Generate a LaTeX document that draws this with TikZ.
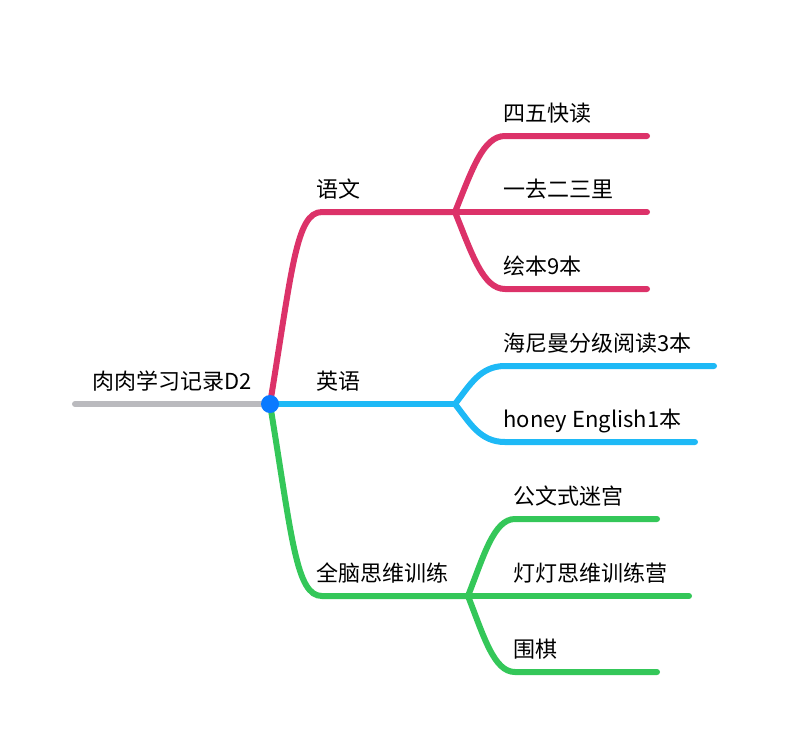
\documentclass[tikz,border=0pt]{standalone}
\usepackage{fontspec}
\setmainfont{Noto Sans CJK SC}
\definecolor{rootgray}{RGB}{186,186,190}
\definecolor{hubblue}{RGB}{10,122,255}
\definecolor{ywpink}{RGB}{220,50,105}
\definecolor{yyblue}{RGB}{30,185,246}
\definecolor{nlgreen}{RGB}{52,199,89}
\tikzset{every picture/.style={line width=0.75pt}}
\tikzset{branch/.style={line width=4.5pt,line cap=round},
  txt/.style={anchor=base west,inner sep=0pt,font=\fontsize{16.5}{20}\selectfont}}

\begin{document}
\begin{tikzpicture}[x=0.75pt,y=0.75pt,yscale=-1,xscale=1]
\useasboundingbox (0,0) rectangle (788,747);

% Junctions
\coordinate (tail) at (75,404);
\coordinate (hub) at (270,404);
\coordinate (yw) at (455,212);
\coordinate (yy) at (455,404);
\coordinate (nl) at (468,596);
% Ends
\coordinate (yw1) at (647,136);
\coordinate (yw2) at (647,212);
\coordinate (yw3) at (647,289);
\coordinate (yy1) at (714,366);
\coordinate (yy2) at (695,442);
\coordinate (nl1) at (657,519);
\coordinate (nl2) at (689,596);
\coordinate (nl3) at (657,672);

%Straight Lines: root
\draw [branch,rootgray] (tail) -- (hub) ;
%Curve Lines: main branches
\draw [branch,ywpink] (hub) .. controls (292,270) and (296,212) .. (322,212) -- (yw) ;
\draw [branch,yyblue] (hub) -- (yy) ;
\draw [branch,nlgreen] (hub) .. controls (292,538) and (296,596) .. (322,596) -- (nl) ;
%Curve Lines: pink children
\draw [branch,ywpink] (yw) .. controls (472,170) and (483,136) .. (505,136) -- (yw1) ;
\draw [branch,ywpink] (yw) -- (yw2) ;
\draw [branch,ywpink] (yw) .. controls (472,254) and (483,289) .. (505,289) -- (yw3) ;
%Curve Lines: blue children
\draw [branch,yyblue] (yy) .. controls (470,385) and (480,366) .. (505,366) -- (yy1) ;
\draw [branch,yyblue] (yy) .. controls (470,423) and (480,442) .. (505,442) -- (yy2) ;
%Curve Lines: green children
\draw [branch,nlgreen] (nl) .. controls (484,555) and (494,519) .. (515,519) -- (nl1) ;
\draw [branch,nlgreen] (nl) -- (nl2) ;
\draw [branch,nlgreen] (nl) .. controls (484,637) and (494,672) .. (515,672) -- (nl3) ;
%Shape: Circle
\fill [hubblue] (hub) circle [radius=6.75pt] ;

% Text Node
\node [txt] (root) at (92,389) {肉肉学习记录D2};
% Text Node
\node [txt] (yuwen) at (316,197) {语文};
% Text Node
\node [txt] (yingyu) at (316,389) {英语};
% Text Node
\node [txt] (naoli) at (316,581) {全脑思维训练};
% Text Node
\node [txt] (siwu) at (503,121) {四五快读};
% Text Node
\node [txt] (yiqu) at (503,197) {一去二三里};
% Text Node
\node [txt] (huiben) at (503,274) {绘本9本};
% Text Node
\node [txt] (hnm) at (503,351) {海尼曼分级阅读3本};
% Text Node
\node [txt] (honey) at (503,427) {honey English1本};
% Text Node
\node [txt] (gongwen) at (513,504) {公文式迷宫};
% Text Node
\node [txt] (dengdeng) at (513,581) {灯灯思维训练营};
% Text Node
\node [txt] (weiqi) at (513,657) {围棋};

\end{tikzpicture}
\end{document}
